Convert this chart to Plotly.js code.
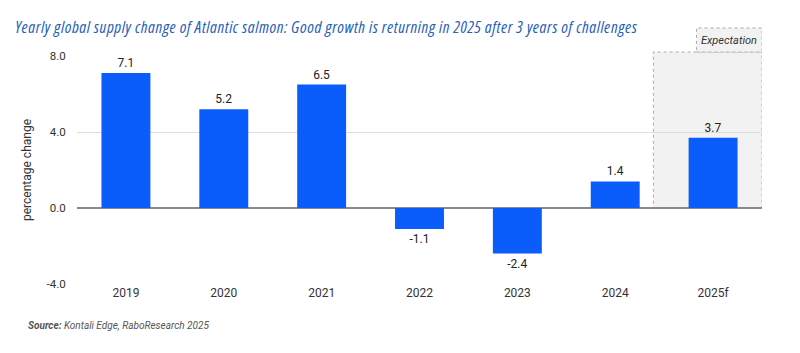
<!DOCTYPE html>
<html>
<head>
<meta charset="utf-8">
<script src="https://cdn.plot.ly/plotly-3.0.1.min.js"></script>
<style>html,body{margin:0;padding:0;background:#fff;}#chart{width:800px;height:353px;}
#chart .gtitle{font-stretch:87.5% !important;letter-spacing:0.6px;}</style>
</head>
<body>
<div id="chart"></div>
<script>
const categories = ["2019", "2020", "2021", "2022", "2023", "2024", "2025f"];
const values = [7.1, 5.2, 6.5, -1.1, -2.4, 1.4, 3.7];
const labels = ["7.1", "5.2", "6.5", "-1.1", "-2.4", "1.4", "3.7"];
const yTicks = [-4, 0, 4, 8];
const yTickLabels = ["-4.0", "0.0", "4.0", "8.0"];

const font = "Roboto, Arial, sans-serif";

const trace = {
  type: "bar",
  x: categories,
  y: values,
  width: 0.5,
  marker: {color: "#0a5cfb"},
  text: labels,
  textposition: "outside",
  textfont: {size: 12, color: "#222", family: font},
  cliponaxis: false,
  hoverinfo: "skip"
};

const layout = {
  width: 800, height: 353,
  margin: {l: 77, r: 38, t: 56, b: 69},
  paper_bgcolor: "#fff", plot_bgcolor: "rgba(0,0,0,0)",
  showlegend: false,
  font: {family: font, color: "#333"},
  title: {
    text: "<i>Yearly global supply change of Atlantic salmon: Good growth is returning in 2025 after 3 years of challenges</i>",
    font: {size: 16.5, color: "#2560b8", family: "Open Sans, sans-serif"},
    x: 0.019, xanchor: "left", xref: "container", y: 0.923, yanchor: "middle", yref: "container"
  },
  xaxis: {
    type: "category",
    range: [-0.5, 6.5],
    showgrid: false, zeroline: false, showline: false,
    ticks: "", tickfont: {size: 12, color: "#333", family: font}
  },
  yaxis: {
    range: [-4, 8],
    tickvals: yTicks, ticktext: yTickLabels,
    showgrid: true, gridcolor: "#dedede", gridwidth: 1,
    zeroline: true, zerolinecolor: "#8a8a8a", zerolinewidth: 1.5,
    showline: false, ticks: "outside", ticklen: 8, tickcolor: "rgba(0,0,0,0)",
    tickfont: {size: 11.5, color: "#333", family: font},
    title: {text: "percentage change", font: {size: 12, color: "#333", family: font}, standoff: 12}
  },
  shapes: [
    {type: "rect", layer: "below", xref: "x", yref: "paper", x0: 5.39, x1: 6.5, y0: 0.3333, y1: 1.0175,
     fillcolor: "#f2f2f2", line: {color: "#aaaaaa", width: 1, dash: "dot"}},
    {type: "rect", layer: "below", xref: "x", yref: "paper", x0: 5.83, x1: 6.5, y0: 1.0175, y1: 1.1228,
     fillcolor: "#f2f2f2", line: {color: "#aaaaaa", width: 1, dash: "dot"}}
  ],
  annotations: [
    {xref: "x", yref: "paper", x: 6.165, y: 1.07, text: "<i>Expectation</i>", showarrow: false,
     font: {size: 11, color: "#333", family: font}, xanchor: "center", yanchor: "middle"},
    {xref: "paper", yref: "paper", x: -0.075, y: -0.18, xanchor: "left", yanchor: "middle", showarrow: false,
     text: "<b><i>Source:</i></b><i> Kontali Edge, RaboResearch 2025</i>",
     font: {size: 10, color: "#555", family: font}}
  ]
};

Plotly.newPlot("chart", [trace], layout, {displayModeBar: false, staticPlot: true});
</script>
</body>
</html>
